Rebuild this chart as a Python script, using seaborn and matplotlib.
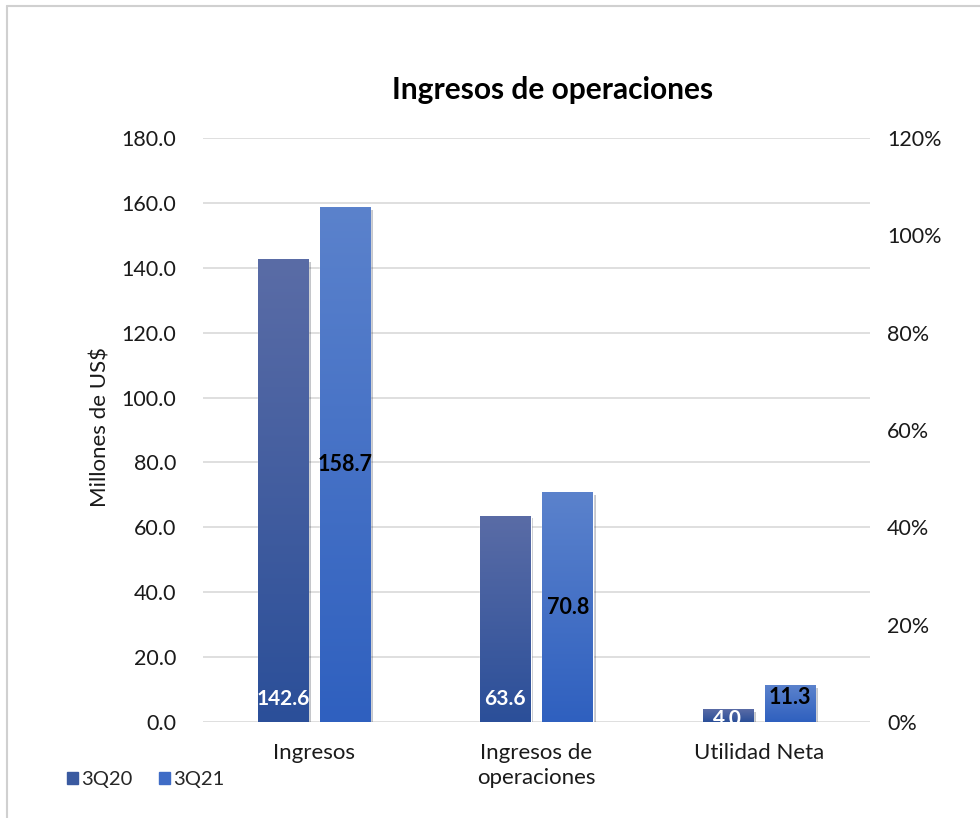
import numpy as np
import pandas as pd
import matplotlib
matplotlib.use('Agg')
import matplotlib.pyplot as plt
import matplotlib.patheffects as pe
import seaborn as sns
from matplotlib.colors import LinearSegmentedColormap
from matplotlib.lines import Line2D
from matplotlib.patches import Rectangle
from matplotlib.ticker import FuncFormatter

# datos
categorias = ['Ingresos', 'Ingresos de\noperaciones', 'Utilidad Neta']
periodos = ['3Q20', '3Q21']
valores_3q20 = [142.6, 63.6, 4.0]
valores_3q21 = [158.7, 70.8, 11.3]

df = pd.DataFrame({
    'categoria': categorias * 2,
    'periodo': ['3Q20'] * len(categorias) + ['3Q21'] * len(categorias),
    'valor': valores_3q20 + valores_3q21,
})

sns.set_theme(style='white')
plt.rcParams['font.family'] = ['Lato', 'DejaVu Sans']

colores = {'3Q20': '#3a5aa0', '3Q21': '#3f6cc6'}
# degradado vertical (arriba -> abajo)
degradados = {
    '3Q20': ('#5a6ca6', '#2b4f99'),
    '3Q21': ('#5b82cc', '#2f60bf'),
}

fig = plt.figure(figsize=(9.8, 8.18), dpi=100)
ax = fig.add_axes([0.207, 0.1174, 0.681, 0.7139])

sns.barplot(data=df, x='categoria', y='valor', hue='periodo', hue_order=periodos,
            palette=colores, width=0.56, gap=0.19, ax=ax, legend=False)

# relleno con degradado y sombra
for periodo, cont in zip(periodos, ax.containers):
    arriba, abajo = degradados[periodo]
    cmap = LinearSegmentedColormap.from_list(periodo, [abajo, arriba])
    for barra in cont:
        barra.set_path_effects([pe.SimplePatchShadow(offset=(2, -2), alpha=0.25), pe.Normal()])
        x0, y0 = barra.get_x(), barra.get_y()
        w, h = barra.get_width(), barra.get_height()
        grad = np.linspace(0, 1, 256).reshape(-1, 1)
        img = ax.imshow(grad, cmap=cmap, extent=(x0, x0 + w, y0, y0 + h),
                        origin='lower', aspect='auto', zorder=2.5)
        img.set_clip_path(barra)

# etiquetas de datos
for periodo, cont, vals in zip(periodos, ax.containers, [valores_3q20, valores_3q21]):
    for barra, v in zip(cont, vals):
        xc = barra.get_x() + barra.get_width() / 2
        if periodo == '3Q20':
            yp = 7 if v > 14 else v / 4
            ax.text(xc, yp, f'{v:.1f}', ha='center', va='center', color='white',
                    fontsize=15, fontweight='bold', zorder=5)
        else:
            ax.text(xc, max(v / 2, 7.5), f'{v:.1f}', ha='center', va='center', color='black',
                    fontsize=15.5, fontweight='bold', zorder=5)

ax.set_xlim(-0.5, 2.5)
ax.set_ylim(0, 180)
ax.set_yticks(np.arange(0, 181, 20))
ax.yaxis.set_major_formatter(FuncFormatter(lambda v, p: f'{v:.1f}'))
ax.yaxis.grid(True, color='#d9d9d9', lw=1.2)
ax.set_axisbelow(True)
ax.set_xlabel('')
ax.set_ylabel('')
ax.tick_params(axis='y', length=0, pad=19, labelsize=15.5, labelcolor='#1a1a1a')
ax.tick_params(axis='x', length=0, pad=15, labelsize=16, labelcolor='#1a1a1a')
for lbl in ax.get_xticklabels():
    lbl.set_linespacing(1.35)
for s in ax.spines.values():
    s.set_visible(False)

ax2 = ax.twinx()
ax2.set_ylim(0, 1.2)
ax2.set_yticks(np.arange(0, 1.21, 0.2))
ax2.yaxis.set_major_formatter(FuncFormatter(lambda v, p: f'{v:.0%}'))
ax2.tick_params(axis='y', length=0, pad=12, labelsize=15.5, labelcolor='#1a1a1a')
ax2.grid(False)
for s in ax2.spines.values():
    s.set_visible(False)

fig.text(100 / 980, 1 - 427 / 818, 'Millones de US$', rotation=90, ha='center', va='center',
         fontsize=16, color='#1a1a1a')
fig.text(553 / 980, 1 - 90 / 818, 'Ingresos de operaciones', ha='center', va='center',
         fontsize=21.5, fontweight='bold', color='black')

handles = [Rectangle((0, 0), 1, 1, color=colores[p]) for p in periodos]
fig.legend(handles, periodos, loc='center left', bbox_to_anchor=(67 / 980, 1 - 780 / 818),
           ncol=2, frameon=False, fontsize=14.5, handlelength=0.55, handleheight=0.55,
           handletextpad=0.15, columnspacing=1.3, borderpad=0, borderaxespad=0)

# borde del área del gráfico
fig.add_artist(Line2D([7 / 980, 7 / 980], [0, 1 - 6 / 818], transform=fig.transFigure,
                      color='#d0d0d0', lw=1.5))
fig.add_artist(Line2D([7 / 980, 1], [1 - 6 / 818, 1 - 6 / 818], transform=fig.transFigure,
                      color='#d0d0d0', lw=1.5))

fig.savefig('out.png', dpi=100, facecolor='white')
